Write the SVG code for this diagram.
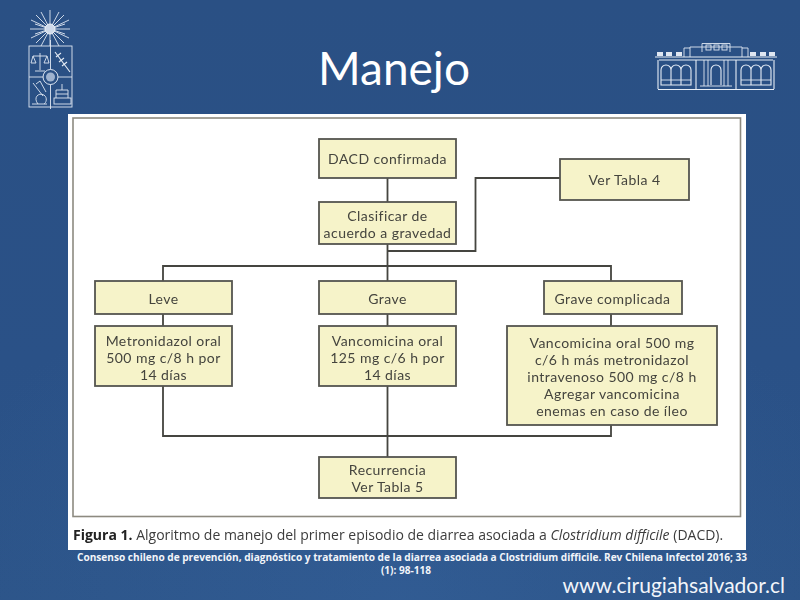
<svg xmlns="http://www.w3.org/2000/svg" width="800" height="600" viewBox="0 0 800 600">
<defs>
<linearGradient id="bg" x1="0" y1="0" x2="0" y2="1">
<stop offset="0" stop-color="#2a5084"/>
<stop offset="0.6" stop-color="#2a5187"/>
<stop offset="1" stop-color="#2c5488"/>
</linearGradient>
<radialGradient id="glow" cx="0.5" cy="1" r="0.6">
<stop offset="0" stop-color="#3a69a6" stop-opacity="0.35"/>
<stop offset="1" stop-color="#3a69a6" stop-opacity="0"/>
</radialGradient>
<filter id="soft" x="-2%" y="-2%" width="104%" height="104%"><feGaussianBlur stdDeviation="0.45"/></filter>
</defs>
<style>
.box{fill:#f6f3c9;stroke:#55554f;stroke-width:1.8}
.t{font-family:Lato,"Open Sans","Liberation Sans",sans-serif;font-size:14px;letter-spacing:0.45px;fill:#44443e;text-anchor:middle}
.line{fill:none;stroke:#44443f;stroke-width:1.8}
.logo{fill:none;stroke:#dfe7f2;stroke-width:0.9}
.logo2{fill:none;stroke:#e6edf6;stroke-width:1.1}
.fill{fill:#dfe7f2}
</style>
<rect width="800" height="600" fill="url(#bg)"/>
<rect width="800" height="600" fill="url(#glow)"/>

<g id="shield">
<path class="logo" d="M50 10V46M30 29H70M36 15L64 43M64 15L36 43M41 12L59 46M59 12L41 46M31 20L69 38M69 20L31 38M35 24L65 34M65 24L35 34"/>
<circle cx="50" cy="29" r="5" fill="#cfdaea" stroke="#eef3f9"/>
<rect class="logo" x="29" y="46" width="43" height="61"/>
<path class="logo" d="M50.5 40V109M29 77H72"/>
<circle cx="50.5" cy="77" r="7.5" fill="#2a5084" stroke="#dfe7f2"/>
<circle cx="50.5" cy="77" r="4.5" fill="#9fb3cf"/>
<path class="logo" d="M40 53V70M35 71H45M33 56H47M33 56L31 63H36L33 56M47 56L44 63H49L47 56"/>
<path class="logo2" d="M55 52L70 72M56 57L61 53M59 62L64 58M62 66L67 62"/>
<path class="logo" d="M33 83L43 96M36 84L40 81L46 92M32 104H47M38 104C33 98 38 92 44 95C48 98 46 103 44 104"/>
<rect class="logo" x="54" y="98" width="17" height="6"/>
<path class="logo" d="M56 98V90H68V98M62 90V84M56 94H68"/>
</g>

<g id="building">
<path class="logo2" d="M655 57H777M658 89.500H774M659 60H773M658 60V89M774 60V89M696 60V89M736 60V89"/>
<path class="logo" d="M684 57V48H690M748 57V48H742M690 47H742M702 52V43.500H730V52M690 47V57M742 47V57"/>
<rect class="fill" x="657" y="52" width="6" height="4"/><rect class="fill" x="666" y="52" width="6" height="4"/><rect class="fill" x="676" y="52" width="6" height="4"/>
<rect class="fill" x="750" y="52" width="6" height="4"/><rect class="fill" x="760" y="52" width="6" height="4"/><rect class="fill" x="769" y="52" width="6" height="4"/>
<rect class="logo" x="706" y="45" width="5" height="5"/><rect class="logo" x="714" y="45" width="5" height="5"/><rect class="logo" x="722" y="45" width="5" height="5"/>
<path class="logo2" d="M661 85V70A5 5 0 0 1 671 70V85ZM671 85V70A5 5 0 0 1 681 70V85ZM681 85V70A5 5 0 0 1 691 70V85Z"/>
<path class="logo2" d="M741 85V70A5 5 0 0 1 751 70V85ZM751 85V70A5 5 0 0 1 761 70V85ZM761 85V70A5 5 0 0 1 771 70V85Z"/>
<path class="logo" d="M661 80H691M741 80H771"/>
<path class="logo2" d="M711 85V70A5 5 0 0 1 721 70V85"/>
<path class="logo" d="M704 60V86M708 60V86M724 60V86M728 60V86M700 86H732"/>
</g>

<g id="title"><text x="394" y="85" font-family="Lato,'Open Sans',sans-serif" font-size="46" fill="#ffffff" text-anchor="middle">Manejo</text></g>

<rect x="68" y="114" width="678" height="436" fill="#ffffff"/>
<rect x="73" y="118" width="667.500" height="398.500" fill="#ffffff" stroke="#8d8a80" stroke-width="1.6"/>

<g filter="url(#soft)">
<g id="connectors">
<path class="line" d="M387.500 178V202M387.500 244V281M387.500 251H475.500V178H560M163 281V266H611V281M163 314V326M387.500 314V326M611 314V326M163 386V436H611V425M387.500 386V457"/>
</g>
<g id="n-dacd"><rect class="box" x="319" y="139" width="137" height="39"/><text class="t" x="387.500" y="164">DACD confirmada</text></g>
<g id="n-clasificar"><rect class="box" x="319" y="202" width="137" height="42"/><text class="t" x="387.500" y="221">Clasificar de</text><text class="t" x="387.500" y="238">acuerdo a gravedad</text></g>
<g id="n-tabla4"><rect class="box" x="560" y="159" width="129" height="41"/><text class="t" x="624.500" y="185">Ver Tabla 4</text></g>
<g id="n-leve"><rect class="box" x="95" y="281" width="137" height="33"/><text class="t" x="163.500" y="304">Leve</text></g>
<g id="n-grave"><rect class="box" x="319" y="281" width="137" height="33"/><text class="t" x="387.500" y="304">Grave</text></g>
<g id="n-complicada"><rect class="box" x="544" y="281" width="138" height="33"/><text class="t" x="612.500" y="304">Grave complicada</text></g>
<g id="n-metro"><rect class="box" x="95" y="326" width="137" height="60"/><text class="t" x="163.500" y="346">Metronidazol oral</text><text class="t" x="163.500" y="363">500 mg c/8 h por</text><text class="t" x="163.500" y="380">14 días</text></g>
<g id="n-vanco"><rect class="box" x="319" y="326" width="137" height="60"/><text class="t" x="387.500" y="346">Vancomicina oral</text><text class="t" x="387.500" y="363">125 mg c/6 h por</text><text class="t" x="387.500" y="380">14 días</text></g>
<g id="n-vanco2"><rect class="box" x="507" y="326" width="210" height="99"/><text class="t" x="612" y="348">Vancomicina oral 500 mg</text><text class="t" x="612" y="365">c/6 h más metronidazol</text><text class="t" x="612" y="382">intravenoso 500 mg c/8 h</text><text class="t" x="612" y="399">Agregar vancomicina</text><text class="t" x="612" y="416">enemas en caso de íleo</text></g>
<g id="n-recurrencia"><rect class="box" x="319" y="457" width="137" height="41"/><text class="t" x="387.500" y="475">Recurrencia</text><text class="t" x="387.500" y="492">Ver Tabla 5</text></g>
<g id="caption"><text x="73" y="540" font-family="'Open Sans','Noto Sans',sans-serif" font-size="14" fill="#3c3c3c"><tspan font-weight="700" fill="#222">Figura 1.</tspan> Algoritmo de manejo del primer episodio de diarrea asociada a <tspan font-style="italic">Clostridium difficile</tspan> (DACD).</text></g>
</g>

<g id="reference" font-family="'Open Sans','Noto Sans',sans-serif" font-size="10.100" font-weight="700" fill="#f2f5fa" text-anchor="middle">
<text x="412" y="561">Consenso chileno de prevención, diagnóstico y tratamiento de la diarrea asociada a Clostridium difficile. Rev Chilena Infectol 2016; 33</text>
<text x="406" y="574">(1): 98-118</text>
</g>
<g id="site"><text x="785" y="593" font-family="Lato,'Open Sans',sans-serif" font-size="21" fill="#f2f5fa" text-anchor="end">www.cirugiahsalvador.cl</text></g>
</svg>
